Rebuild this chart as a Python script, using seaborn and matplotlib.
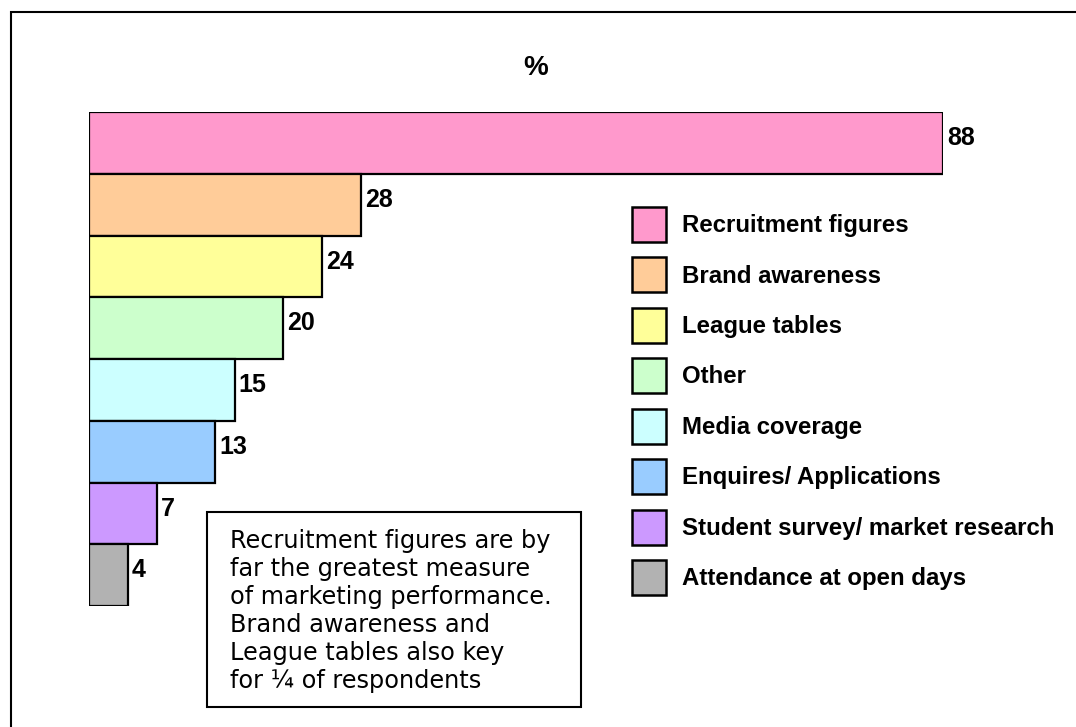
import matplotlib
matplotlib.use("Agg")

import matplotlib.pyplot as plt
from matplotlib.patches import Patch, Rectangle
import seaborn as sns

# data
categories = [
    "Recruitment figures",
    "Brand awareness",
    "League tables",
    "Other",
    "Media coverage",
    "Enquires/ Applications",
    "Student survey/ market research",
    "Attendance at open days",
]
values = [88, 28, 24, 20, 15, 13, 7, 4]
colors = ["#FF99CC", "#FFCC99", "#FFFF99", "#CCFFCC",
          "#CCFFFF", "#99CCFF", "#CC99FF", "#B2B2B2"]
note = ("Recruitment figures are by\n"
        "far the greatest measure\n"
        "of marketing performance.\n"
        "Brand awareness and\n"
        "League tables also key\n"
        "for \u00bc of respondents")

sns.set_theme(style="white")
plt.rcParams["font.family"] = ["Liberation Sans", "DejaVu Sans"]
plt.rcParams["text.color"] = "black"

W, H = 1076, 727
fig = plt.figure(figsize=(W / 100, H / 100), dpi=100)
fig.patch.set_facecolor("white")

# axes placed so bars span the same pixels as the reference
left, right, top, bottom = 89, 943, 112, 606
ax = fig.add_axes([left / W, 1 - bottom / H, (right - left) / W, (bottom - top) / H])

sns.barplot(x=values, y=categories, hue=categories, palette=colors,
            saturation=1, width=1, edgecolor="black", linewidth=1.6,
            legend=False, ax=ax)
ax.set_xlim(0, 88)
ax.set_ylim(len(categories) - 0.5, -0.5)
ax.set_axis_off()

for i, v in enumerate(values):
    ax.annotate(str(v), xy=(v, i), xytext=(3, 3.5), textcoords="offset points",
                ha="left", va="center", fontsize=18, fontweight="bold",
                color="black")

# legend
fs = 17.3
handles = [Patch(facecolor=c, edgecolor="black", linewidth=1.8) for c in colors]
fig.legend(handles, categories, loc="upper left",
           bbox_to_anchor=(632 / W, 1 - 207 / H), frameon=False,
           prop={"weight": "bold", "size": fs}, labelcolor="black",
           handlelength=1.42, handleheight=1.84, handletextpad=0.68,
           labelspacing=0.66, borderpad=0, borderaxespad=0)

# title
fig.text(536 / W, 1 - 68 / H, "%", ha="center", va="center",
         fontsize=20, fontweight="bold")

# note box
fig.add_artist(Rectangle((207 / W, 1 - 707 / H), (581 - 207) / W, (707 - 512) / H,
                         transform=fig.transFigure, fill=False,
                         edgecolor="black", linewidth=1.5))
fig.text(230 / W, 1 - 611 / H, note, ha="left", va="center",
         fontsize=17.3, family=["DejaVu Sans"], linespacing=1.22)

# outer frame (runs off the right and bottom edges)
fig.add_artist(Rectangle((11 / W, -0.1), 2, 1.1 - 12 / H,
                         transform=fig.transFigure, fill=False,
                         edgecolor="black", linewidth=1.5))

fig.savefig("out.png", dpi=100)
